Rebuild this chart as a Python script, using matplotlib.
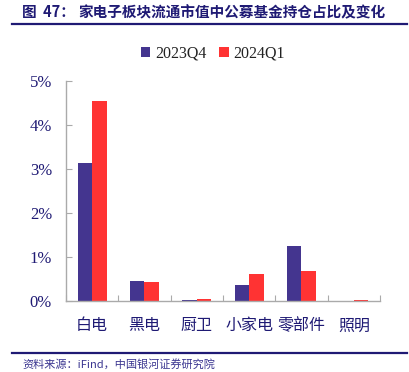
import matplotlib
matplotlib.use('Agg')
import matplotlib.pyplot as plt
import numpy as np
from matplotlib.lines import Line2D
from matplotlib.ticker import FuncFormatter

categories = ['白电', '黑电', '厨卫', '小家电', '零部件', '照明']
series_names = ['2023Q4', '2024Q1']
q4_2023 = [3.12, 0.45, 0.02, 0.36, 1.24, 0.0]
q1_2024 = [4.55, 0.42, 0.04, 0.61, 0.67, 0.01]
y_ticks = [0, 1, 2, 3, 4, 5]

NAVY = '#1f1a74'
C_Q4 = '#44358f'
C_Q1 = '#ff3333'
CJK = ['Noto Sans CJK SC', 'DejaVu Sans']
SERIF = ['Liberation Serif', 'DejaVu Serif']

fig = plt.figure(figsize=(4.10, 3.72), dpi=100)

# title and rules
fig.text(22 / 410, 1 - 12 / 372, '图  47：', family=CJK, fontsize=10.5, fontweight='bold',
         color=NAVY, va='center', ha='left')
fig.text(78 / 410, 1 - 12 / 372, '家电子板块流通市值中公募基金持仓占比及变化', family=CJK,
         fontsize=10.5, fontweight='bold', color=NAVY, va='center', ha='left')
fig.add_artist(Line2D([12 / 410, 407 / 410], [1 - 24 / 372] * 2, color=NAVY, lw=1.6))
fig.add_artist(Line2D([12 / 410, 407 / 410], [1 - 353 / 372] * 2, color=NAVY, lw=1.6))
fig.text(22 / 410, 1 - 364 / 372, '资料来源：iFind，中国银河证券研究院', family=CJK,
         fontsize=8, color='#3a3590', va='center', ha='left', style='italic')

ax = fig.add_axes([66 / 410, 1 - 300.7 / 372, (380 - 66) / 410, (300.7 - 80.7) / 372])
x = np.arange(len(categories))
w = 0.28
ax.bar(x - w / 2, q4_2023, w, color=C_Q4, label=series_names[0])
ax.bar(x + w / 2, q1_2024, w, color=C_Q1, label=series_names[1])

ax.set_xlim(-0.5, len(categories) - 0.5)
ax.set_ylim(0, 5)
ax.set_yticks(y_ticks)
ax.yaxis.set_major_formatter(FuncFormatter(lambda v, p: f'{v:.0f}%'))
for lab in ax.get_yticklabels():
    lab.set_family(SERIF)
ax.tick_params(axis='y', direction='in', length=4, color='#aaaaaa', labelsize=12,
               labelcolor=NAVY, pad=10)

ax.set_xticks(np.arange(len(categories) + 1) - 0.5)
ax.set_xticklabels([])
ax.set_xticks(x, minor=True)
ax.set_xticklabels(categories, minor=True, family=CJK, fontsize=11.5, color=NAVY)
ax.tick_params(axis='x', which='major', direction='in', length=4, color='#aaaaaa')
ax.tick_params(axis='x', which='minor', length=0, pad=12)

for s in ['top', 'right']:
    ax.spines[s].set_visible(False)
for s in ['left', 'bottom']:
    ax.spines[s].set_color('#aaaaaa')
    ax.spines[s].set_linewidth(1.0)

leg = fig.legend(loc='center', bbox_to_anchor=(213 / 410, 1 - 54 / 372), ncol=2, frameon=False,
                 handlelength=0.6, handleheight=0.6, handletextpad=0.3, columnspacing=0.8,
                 prop={'family': SERIF, 'size': 11.5})
for t in leg.get_texts():
    t.set_color('#222222')

fig.savefig('out.png', dpi=100)
